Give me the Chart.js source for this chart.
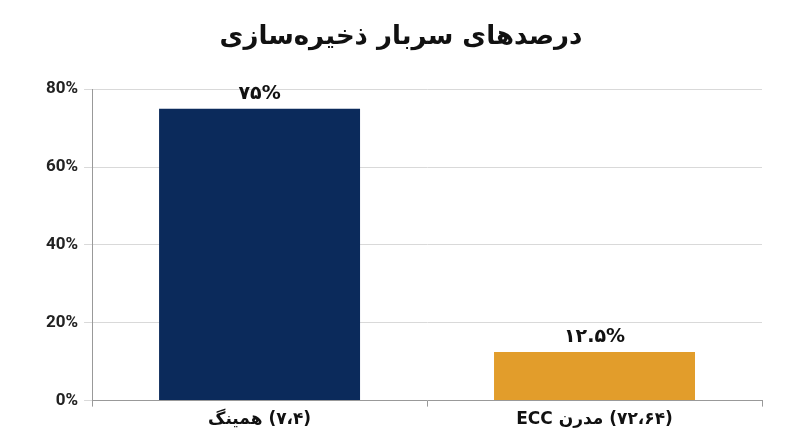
<!DOCTYPE html>
<html><head><meta charset="utf-8">
<script src="https://cdn.jsdelivr.net/npm/chart.js@4.4.0/dist/chart.umd.min.js"></script>
<style>body{margin:0;background:#fff}#wrap{width:800px;height:447px}</style>
</head><body><div id="wrap"><canvas id="c"></canvas></div>
<script>
// LRM (\u200E) keeps the word order of the mixed Persian/Latin labels as in the reference
const categories = ['همینگ\u200E (۷،۴)', 'ECC مدرن\u200E (۷۲،۶۴)'];
const values = [75, 12.5];
const valueLabels = ['۷۵%', '۱۲.۵%'];
const colors = ['#0b2a5b', '#e29d2b'];

const labelPlugin = {
  id: 'barLabels',
  afterDatasetsDraw(chart) {
    const ctx = chart.ctx;
    ctx.save();
    ctx.font = 'bold 19px "DejaVu Sans"';
    ctx.fillStyle = '#111';
    ctx.textAlign = 'center';
    ctx.textBaseline = 'bottom';
    chart.getDatasetMeta(0).data.forEach((bar, i) => {
      ctx.fillText(valueLabels[i], bar.x, bar.y - 5);
    });
    ctx.restore();
  }
};

new Chart(document.getElementById('c'), {
  type: 'bar',
  data: { labels: categories, datasets: [{ data: values, backgroundColor: colors, categoryPercentage: 0.6, barPercentage: 1 }] },
  options: {
    responsive: true, maintainAspectRatio: false, animation: false,
    layout: { padding: { left: 40, right: 38, top: 6, bottom: 14 } },
    plugins: {
      legend: { display: false }, tooltip: { enabled: false },
      title: { display: true, text: 'درصدهای سربار ذخیره‌سازی', color: '#111',
        font: { family: 'DejaVu Sans', size: 26, weight: 'bold' }, padding: { top: 16, bottom: 36 } }
    },
    scales: {
      y: { min: 0, max: 80, ticks: { stepSize: 20, callback: v => v + '%', color: '#222',
             font: { family: 'Roboto', size: 17, weight: 'bold' }, padding: 6 },
           grid: { color: '#d9d9d9', drawTicks: true, tickLength: 8 }, border: { color: '#999' } },
      x: { ticks: { color: '#111', font: { family: 'DejaVu Sans', size: 17, weight: 'bold' } },
           grid: { display: true, drawOnChartArea: false, color: '#999', tickLength: 6, offset: true },
           border: { color: '#999' } }
    }
  },
  plugins: [labelPlugin]
});
</script></body></html>
